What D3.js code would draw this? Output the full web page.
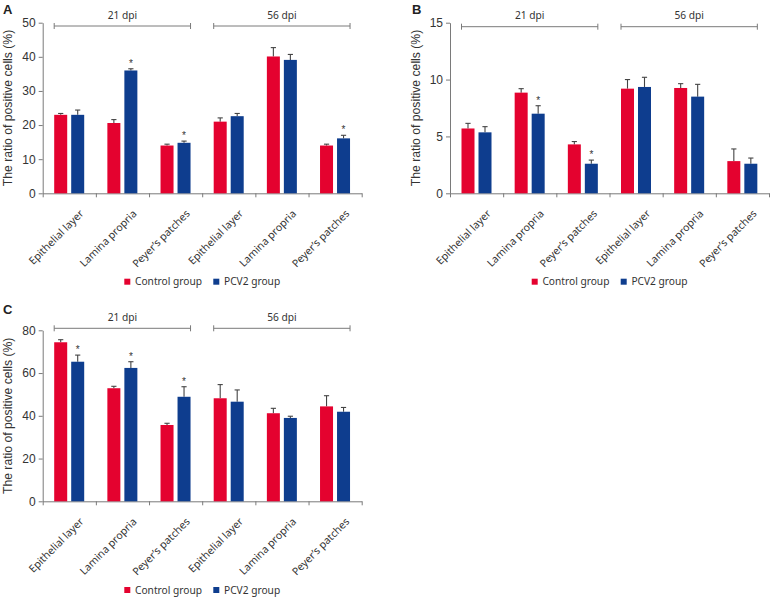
<!DOCTYPE html>
<html>
<head>
<meta charset="utf-8">
<script src="https://cdn.jsdelivr.net/npm/d3@7"></script>
<style>
  html, body { margin: 0; padding: 0; background: #fff; }
  svg { display: block; }
</style>
</head>
<body>
<svg id="chart" width="770" height="597"></svg>
<script>
// ---------- data ----------
const categories = ["Epithelial layer", "Lamina propria", "Peyer\u2019s patches",
                    "Epithelial layer", "Lamina propria", "Peyer\u2019s patches"];
const timepoints = ["21 dpi", "56 dpi"];
const seriesNames = ["Control group", "PCV2 group"];

const aControl    = [23.0, 20.6, 14.0, 21.0, 40.1, 14.0];
const aControlErr = [0.4, 1.0, 0.4, 1.1, 2.6, 0.4];
const aPcv2       = [23.0, 36.0, 14.8, 22.6, 39.1, 16.1];
const aPcv2Err    = [1.4, 0.5, 0.5, 0.8, 1.6, 0.9];
const aStars      = [0, 1, 1, 0, 0, 1];
const aTicks      = [0, 10, 20, 30, 40, 50];

const bControl    = [5.7, 8.85, 4.3, 9.2, 9.26, 2.83];
const bControlErr = [0.45, 0.35, 0.25, 0.8, 0.38, 1.07];
const bPcv2       = [5.36, 7.0, 2.6, 9.35, 8.5, 2.6];
const bPcv2Err    = [0.5, 0.7, 0.32, 0.85, 1.08, 0.5];
const bStars      = [0, 1, 1, 0, 0, 0];
const bTicks      = [0, 5, 10, 15];

const cControl    = [74.4, 52.9, 35.7, 48.2, 41.2, 44.4];
const cControlErr = [1.2, 0.9, 0.8, 6.4, 2.3, 5.0];
const cPcv2       = [65.3, 62.4, 48.9, 46.6, 39.0, 41.9];
const cPcv2Err    = [3.1, 2.9, 4.7, 5.5, 0.8, 2.0];
const cStars      = [1, 1, 1, 0, 0, 0];
const cTicks      = [0, 20, 40, 60, 80];

const yTitle = "The ratio of positive cells (%)";
const colors = ["#e4022f", "#0e3d8e"];

// ---------- drawing ----------
const svg = d3.select("#chart");
const axisColor = "#7a7a7a";
const textColor = "#333";
const labelFont = "'Noto Sans', 'Open Sans', sans-serif";
const numFont = "'Liberation Sans', Arial, Helvetica, sans-serif";

function drawPanel(opt) {
  const g = svg.append("g");
  const x0 = opt.x0, w = 319;
  const y = d3.scaleLinear().domain([0, opt.ticks[opt.ticks.length - 1]]).range([opt.bottom, opt.top]);
  const idx = d3.range(categories.length);
  const x = d3.scaleBand().domain(idx).range([x0, x0 + w]).padding(0);
  const xs = d3.scaleBand().domain(seriesNames).range([11.5, 41.5]).paddingInner(2 - 30 / 17).paddingOuter(0);

  // panel letter
  g.append("text").attr("x", opt.letterX).attr("y", opt.letterY)
    .attr("font-family", numFont).attr("font-weight", "bold").attr("font-size", 13)
    .attr("fill", "#222").text(opt.letter);

  // y axis
  const yAxis = d3.axisLeft(y).tickValues(opt.ticks).tickSize(4).tickSizeOuter(0).tickPadding(3);
  const ya = g.append("g").attr("transform", `translate(${x0},0)`).call(yAxis);
  ya.select(".domain").attr("stroke", axisColor);
  ya.selectAll(".tick line").attr("stroke", axisColor);
  ya.selectAll(".tick text").attr("font-family", numFont).attr("font-size", 12).attr("fill", textColor);

  // y title
  g.append("text")
    .attr("transform", `translate(${opt.titleX},${(opt.top + opt.bottom) / 2}) rotate(-90)`)
    .attr("text-anchor", "middle").attr("font-family", numFont).attr("font-size", 12.2)
    .attr("fill", textColor).text(yTitle);

  // x axis (band boundaries)
  const xb = d3.scaleLinear().domain([0, categories.length]).range([x0, x0 + w]);
  const xAxis = d3.axisBottom(xb).tickValues(d3.range(categories.length + 1)).tickFormat("").tickSize(4).tickSizeOuter(0);
  const xa = g.append("g").attr("transform", `translate(0,${opt.bottom})`).call(xAxis);
  xa.select(".domain").attr("stroke", axisColor);
  xa.selectAll(".tick line").attr("stroke", axisColor);

  // category labels
  g.selectAll("text.cat").data(categories).join("text").attr("class", "cat")
    .attr("transform", (d, i) => `translate(${x(i) + x.bandwidth() / 2 + 15},${opt.bottom + 21}) rotate(-45)`)
    .attr("text-anchor", "end").attr("font-family", labelFont).attr("font-size", 10.5)
    .attr("fill", textColor).text(d => d);

  // bars
  const series = [
    { name: seriesNames[0], vals: opt.control, errs: opt.controlErr, stars: null },
    { name: seriesNames[1], vals: opt.pcv2, errs: opt.pcv2Err, stars: opt.stars }
  ];
  series.forEach((s, si) => {
    const bw = xs.bandwidth();
    s.vals.forEach((v, i) => {
      const bx = x(i) + xs(s.name);
      const cx = bx + bw / 2;
      const top = y(v + s.errs[i]);
      g.append("line").attr("x1", cx).attr("x2", cx).attr("y1", y(v)).attr("y2", top)
        .attr("stroke", "#444").attr("stroke-width", 1.1);
      g.append("line").attr("x1", cx - 2.6).attr("x2", cx + 2.6).attr("y1", top).attr("y2", top)
        .attr("stroke", "#444").attr("stroke-width", 1.1);
      g.append("rect").attr("x", bx).attr("y", y(v)).attr("width", bw)
        .attr("height", y(0) - y(v)).attr("fill", colors[si]);
      if (s.stars && s.stars[i]) {
        g.append("text").attr("x", cx).attr("y", top - 2).attr("text-anchor", "middle")
          .attr("font-family", numFont).attr("font-size", 10).attr("fill", "#333").text("*");
      }
    });
  });

  // brackets
  timepoints.forEach((t, k) => {
    const xa1 = x(k * 3) + xs(seriesNames[0]);
    const xa2 = x(k * 3 + 2) + xs(seriesNames[1]) + xs.bandwidth();
    g.append("line").attr("x1", xa1).attr("x2", xa2).attr("y1", opt.bracketY).attr("y2", opt.bracketY)
      .attr("stroke", axisColor).attr("stroke-width", 1);
    [xa1, xa2].forEach(xx => g.append("line").attr("x1", xx).attr("x2", xx)
      .attr("y1", opt.bracketY - 3).attr("y2", opt.bracketY + 3).attr("stroke", axisColor));
    g.append("text").attr("x", (xa1 + xa2) / 2).attr("y", opt.bracketY - 7.5)
      .attr("text-anchor", "middle").attr("font-family", labelFont).attr("font-size", 10.2)
      .attr("fill", textColor).text(t);
  });

  // legend
  const lg = g.append("g");
  const legX = [opt.legendX, opt.legendX + 89];
  seriesNames.forEach((n, i) => {
    lg.append("rect").attr("x", legX[i]).attr("y", opt.legendY - 3).attr("width", 6).attr("height", 6)
      .attr("fill", colors[i]);
    lg.append("text").attr("x", legX[i] + 10.7).attr("y", opt.legendY + 3.6)
      .attr("font-family", labelFont).attr("font-size", 10.2).attr("fill", textColor).text(n);
  });
}

drawPanel({ letter: "A", letterX: 3, letterY: 14, x0: 42.7, top: 22.7, bottom: 193.3, titleX: 12,
  ticks: aTicks, control: aControl, controlErr: aControlErr, pcv2: aPcv2, pcv2Err: aPcv2Err, stars: aStars,
  bracketY: 26, legendX: 124.3, legendY: 281.7 });
drawPanel({ letter: "B", letterX: 412, letterY: 14, x0: 450, top: 22.7, bottom: 193.3, titleX: 420,
  ticks: bTicks, control: bControl, controlErr: bControlErr, pcv2: bPcv2, pcv2Err: bPcv2Err, stars: bStars,
  bracketY: 26.7, legendX: 531.7, legendY: 281.7 });
drawPanel({ letter: "C", letterX: 3, letterY: 314, x0: 42.7, top: 330.3, bottom: 501.3, titleX: 12,
  ticks: cTicks, control: cControl, controlErr: cControlErr, pcv2: cPcv2, pcv2Err: cPcv2Err, stars: cStars,
  bracketY: 328.3, legendX: 124.3, legendY: 590 });
</script>
</body>
</html>
